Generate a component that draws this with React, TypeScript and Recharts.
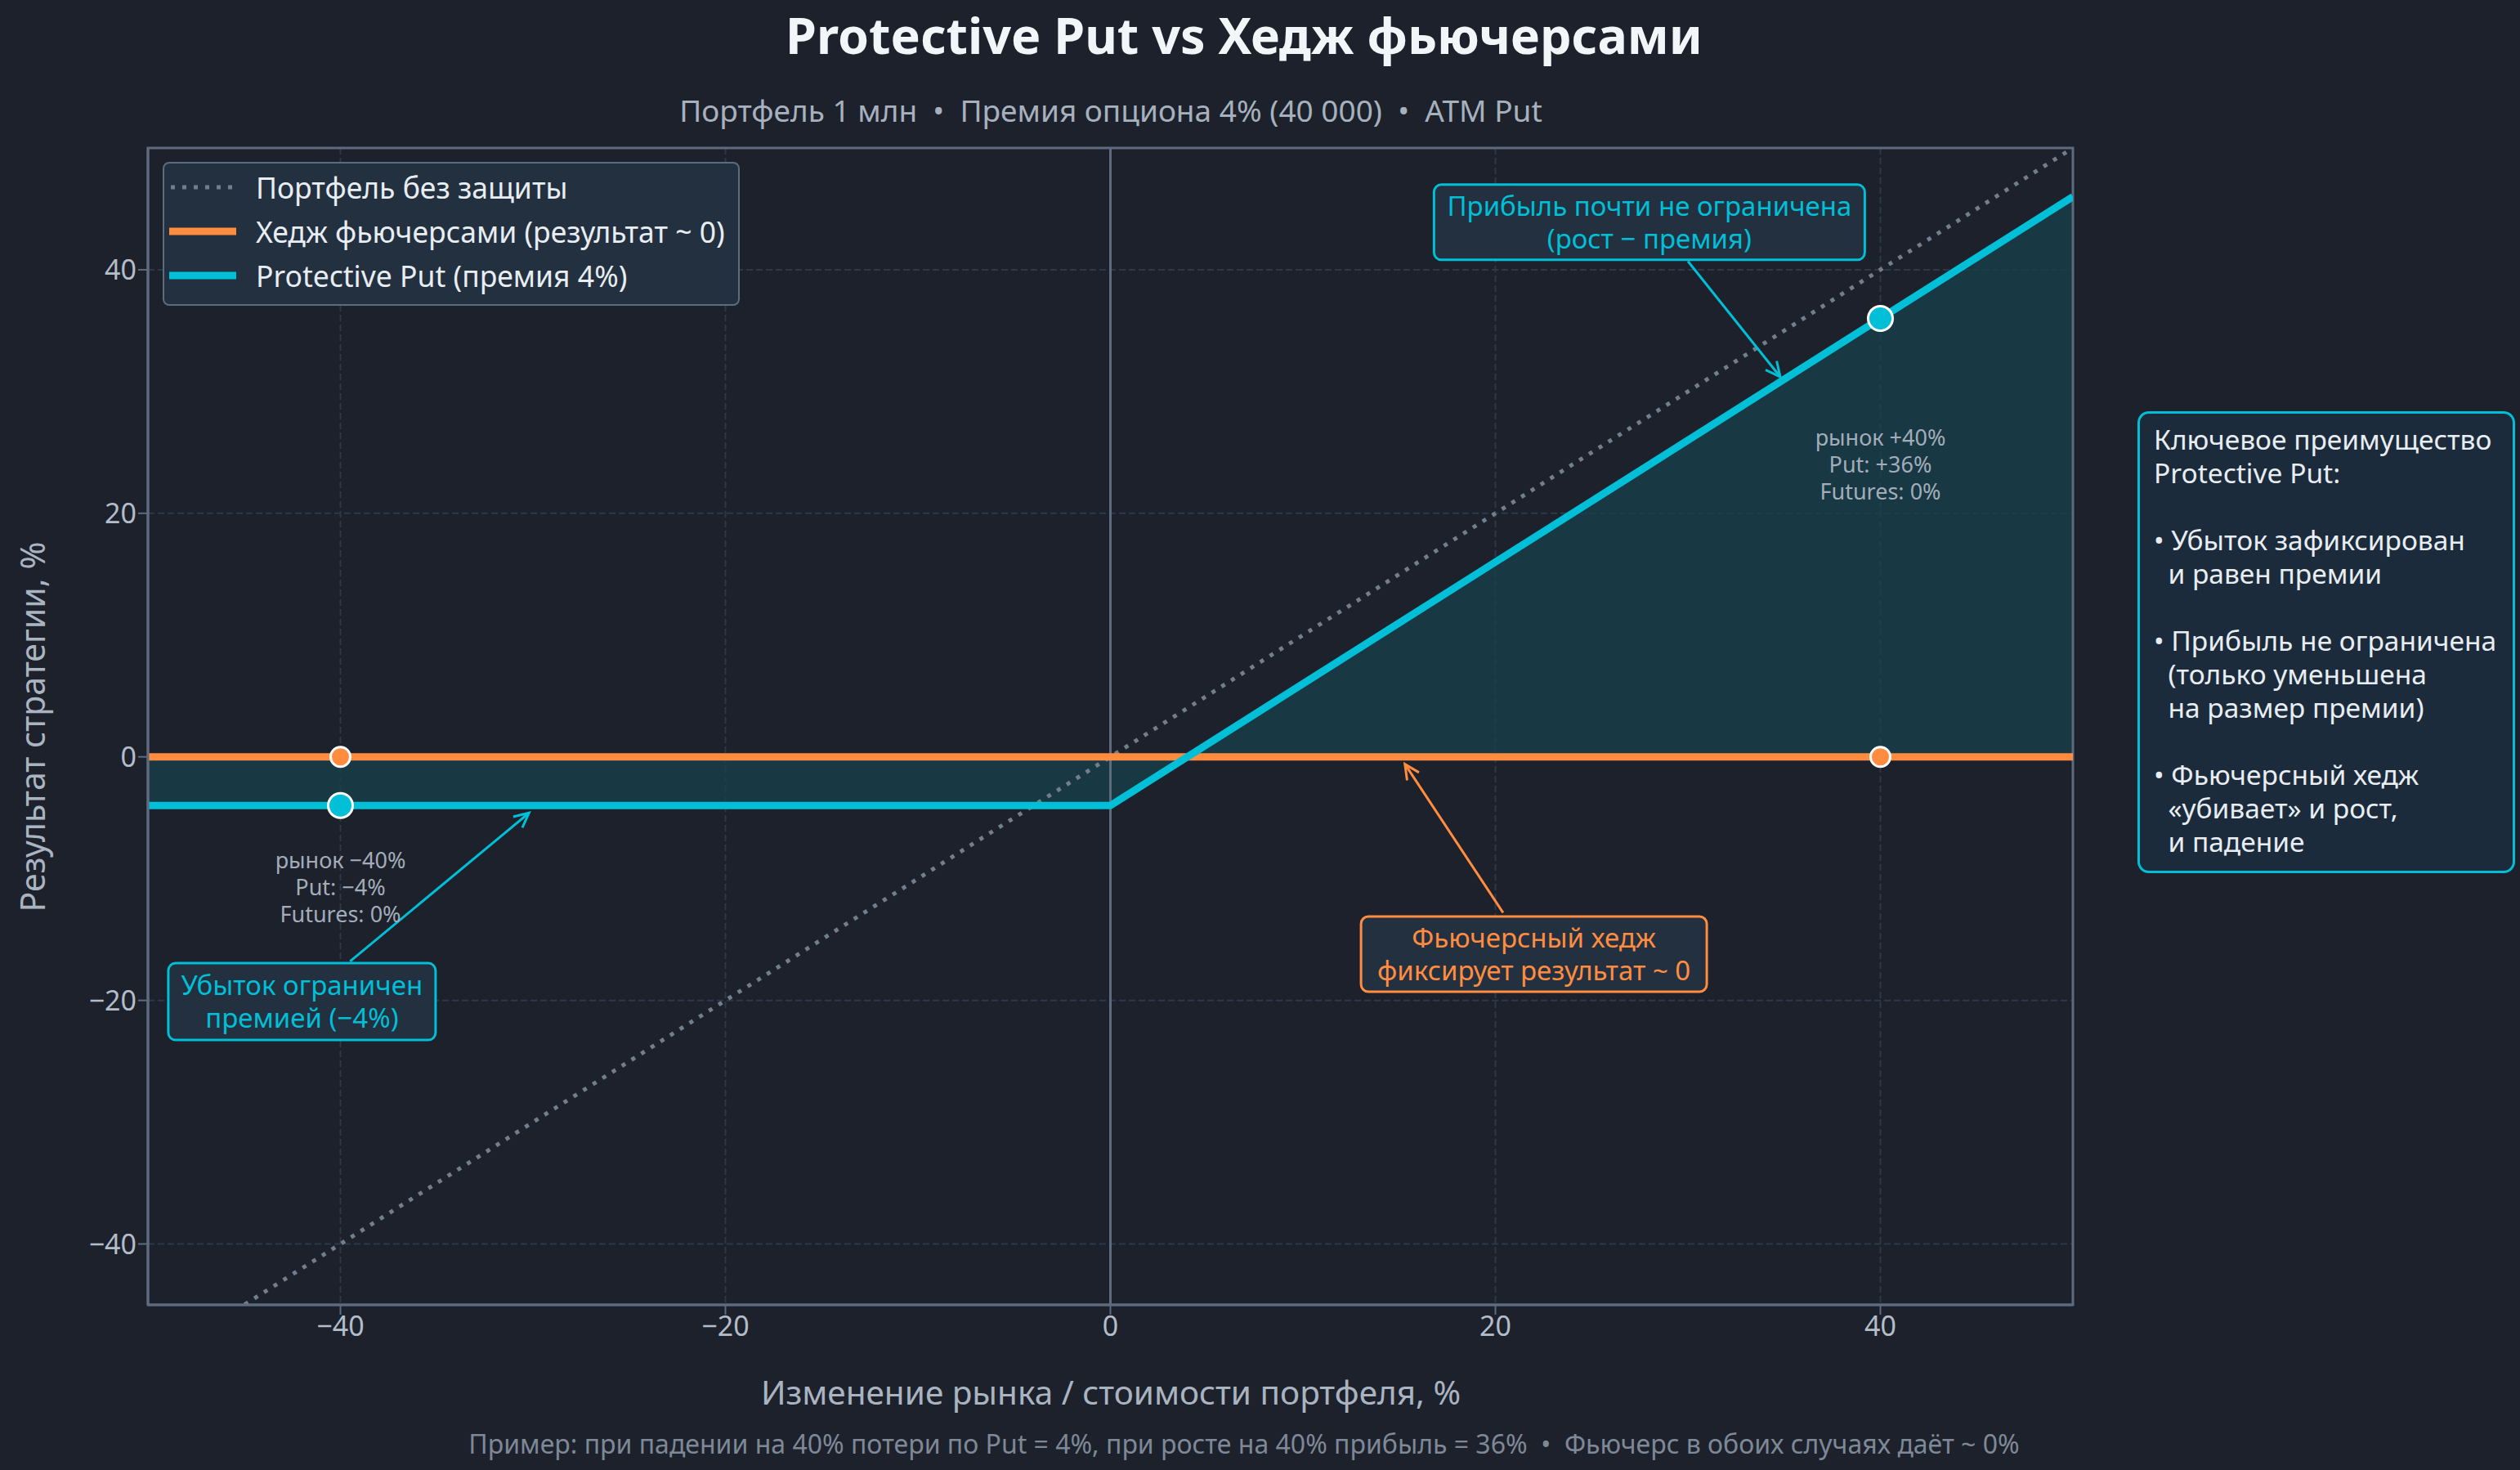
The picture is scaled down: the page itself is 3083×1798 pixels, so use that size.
import React from 'react';
import {
  ComposedChart,
  Line,
  Area,
  Scatter,
  XAxis,
  YAxis,
  CartesianGrid,
  ReferenceLine,
  ReferenceDot,
  ReferenceArea,
  Legend,
} from 'recharts';

// market move, % (x) and strategy result, % (y)
const marketMove = [-50, 0, 50];
const unhedged = [-50, 0, 50];
const futuresHedge = [0, 0, 0];
const protectivePut = [-4, -4, 46];

// highlighted scenarios
const markerMoves = [-40, 40];
const putAtMarkers = [-4, 36];
const futuresAtMarkers = [0, 0];

const xTicks = [-40, -20, 0, 20, 40];
const yTicks = [-40, -20, 0, 20, 40];

const seriesNames = [
  'Портфель без защиты',
  'Хедж фьючерсами (результат ~ 0)',
  'Protective Put (премия 4%)',
];

const W = 3083;
const H = 1798;
const FONT = '"Noto Sans", "Open Sans", sans-serif';
const BG = '#1c212c';
const PANEL = '#233040';
const SPINE = '#5c6b7e';
const GRID = '#2c3949';
const TICK = '#b3bdc9';
const ORANGE = '#ff8c3f';
const CYAN = '#00bfd6';
const DOTTED = '#737e8c';
const FILL = '#17404c';

const rows = marketMove.map((x, i) => ({
  x,
  unhedged: unhedged[i],
  futures: futuresHedge[i],
  put: protectivePut[i],
  gap: [protectivePut[i], futuresHedge[i]],
}));
const putPoints = markerMoves.map((x, i) => ({ x, y: putAtMarkers[i] }));
const futPoints = markerMoves.map((x, i) => ({ x, y: futuresAtMarkers[i] }));

const fmt = (v: number) => (v < 0 ? `\u2212${Math.abs(v)}` : `${v}`);

const NoteBox = ({ cx, cy, lines, color, w, h }: any) => (
  <g>
    <rect x={cx - w / 2} y={cy - h / 2} width={w} height={h} rx={9} fill={PANEL} stroke={color} strokeWidth={3} />
    <text textAnchor="middle" fill={color} fontSize={33} fontFamily={FONT}>
      {lines.map((l: string, i: number) => (
        <tspan key={i} x={cx} y={cy + (i - (lines.length - 1) / 2) * 40 + 12}>
          {l}
        </tspan>
      ))}
    </text>
  </g>
);

const SmallNote = ({ cx, cy, lines }: any) => (
  <text textAnchor="middle" fill="#a3adb9" fontSize={27} fontFamily={FONT}>
    {lines.map((l: string, i: number) => (
      <tspan key={i} x={cx} y={cy + (i - (lines.length - 1) / 2) * 33 + 10}>
        {l}
      </tspan>
    ))}
  </text>
);

const arrowShape = (color: string) => (p: any) => {
  const { x1, y1, x2, y2 } = p;
  const a = Math.atan2(y2 - y1, x2 - x1);
  const len = 20;
  const s = 0.45;
  return (
    <g>
      <line x1={x1} y1={y1} x2={x2} y2={y2} stroke={color} strokeWidth={3} />
      <polyline
        points={`${x2 - len * Math.cos(a - s)},${y2 - len * Math.sin(a - s)} ${x2},${y2} ${x2 - len * Math.cos(a + s)},${y2 - len * Math.sin(a + s)}`}
        fill="none"
        stroke={color}
        strokeWidth={3}
      />
    </g>
  );
};

const LegendBox = () => (
  <div
    style={{
      width: 702,
      height: 172,
      background: PANEL,
      border: `2px solid ${SPINE}`,
      borderRadius: 8,
      fontFamily: FONT,
      fontSize: 35.5,
      color: '#e8edf2',
      position: 'relative',
    }}
  >
    {seriesNames.map((name, i) => (
      <div key={name} style={{ position: 'absolute', left: 0, top: 2 + i * 54, height: 54, display: 'flex', alignItems: 'center' }}>
        <svg width={112} height={20}>
          {i === 0 ? (
            <line x1={8} y1={10} x2={88} y2={10} stroke={DOTTED} strokeWidth={5} strokeDasharray="5 9" />
          ) : (
            <line x1={6} y1={10} x2={88} y2={10} stroke={i === 1 ? ORANGE : CYAN} strokeWidth={9} />
          )}
        </svg>
        <span style={{ whiteSpace: 'nowrap' }}>{name}</span>
      </div>
    ))}
  </div>
);

const dotShape = (color: string, r: number) => (p: any) => (
  <circle cx={p.cx} cy={p.cy} r={r} fill={color} stroke="#ffffff" strokeWidth={3} />
);

export default function App() {
  const abs = (style: React.CSSProperties): React.CSSProperties => ({ position: 'absolute', fontFamily: FONT, whiteSpace: 'pre', ...style });
  return (
    <div style={{ position: 'absolute', left: 0, top: 0, width: W, height: H, background: BG, overflow: 'hidden' }}>
      <ComposedChart width={W} height={H} data={rows} margin={{ top: 181, right: 547, left: 81, bottom: 122 }}>
        <CartesianGrid stroke={GRID} strokeDasharray="8 4" strokeWidth={2} />
        <XAxis
          type="number"
          dataKey="x"
          domain={[-50, 50]}
          ticks={xTicks}
          allowDataOverflow
          tickFormatter={fmt}
          tick={{ fill: TICK, fontSize: 34, fontFamily: FONT }}
          tickSize={12}
          tickLine={{ stroke: SPINE, strokeWidth: 2 }}
          axisLine={{ stroke: SPINE, strokeWidth: 3 }}
          height={80}
        />
        <YAxis
          type="number"
          domain={[-45, 50]}
          ticks={yTicks}
          allowDataOverflow
          tickFormatter={fmt}
          tick={{ fill: TICK, fontSize: 34, fontFamily: FONT }}
          tickSize={12}
          tickLine={{ stroke: SPINE, strokeWidth: 2 }}
          axisLine={{ stroke: SPINE, strokeWidth: 3 }}
          width={100}
        />
        <Legend
          layout="vertical"
          verticalAlign="middle"
          align="center"
          wrapperStyle={{ left: 199, top: 198, width: 706, height: 176 }}
          content={() => <LegendBox />}
        />
        <Area
          dataKey="gap"
          type="linear"
          stroke="none"
          fill={FILL}
          fillOpacity={0.75}
          isAnimationActive={false}
          legendType="none"
        />
        <ReferenceLine x={0} stroke={SPINE} strokeWidth={3} />
        <Line
          dataKey="unhedged"
          type="linear"
          stroke={DOTTED}
          strokeWidth={5}
          strokeDasharray="5 9"
          dot={false}
          isAnimationActive={false}
          name={seriesNames[0]}
        />
        <Line
          dataKey="futures"
          type="linear"
          stroke={ORANGE}
          strokeWidth={9}
          dot={false}
          isAnimationActive={false}
          name={seriesNames[1]}
        />
        <Line
          dataKey="put"
          type="linear"
          stroke={CYAN}
          strokeWidth={9}
          dot={false}
          isAnimationActive={false}
          name={seriesNames[2]}
        />
        <Scatter data={futPoints} dataKey="y" shape={dotShape(ORANGE, 12)} isAnimationActive={false} legendType="none" />
        <Scatter data={putPoints} dataKey="y" shape={dotShape(CYAN, 15)} isAnimationActive={false} legendType="none" />
        <ReferenceArea x1={-50} x2={50} y1={-45} y2={50} fill="none" stroke={SPINE} strokeWidth={3} />

        <ReferenceLine segment={[{ x: 30, y: 40.7 }, { x: 34.8, y: 31.2 }]} shape={arrowShape(CYAN)} />
        <ReferenceLine segment={[{ x: -39.5, y: -16.8 }, { x: -30.2, y: -4.6 }]} shape={arrowShape(CYAN)} />
        <ReferenceLine segment={[{ x: 20.4, y: -12.8 }, { x: 15.3, y: -0.6 }]} shape={arrowShape(ORANGE)} />

        <ReferenceDot
          x={28}
          y={43.9}
          shape={(p: any) => (
            <NoteBox cx={p.cx} cy={p.cy} w={527} h={92} color={CYAN} lines={['Прибыль почти не ограничена', '(рост − премия)']} />
          )}
        />
        <ReferenceDot
          x={-42}
          y={-20.1}
          shape={(p: any) => (
            <NoteBox cx={p.cx} cy={p.cy} w={327} h={94} color={CYAN} lines={['Убыток ограничен', 'премией (−4%)']} />
          )}
        />
        <ReferenceDot
          x={22}
          y={-16.2}
          shape={(p: any) => (
            <NoteBox cx={p.cx} cy={p.cy} w={423} h={92} color={ORANGE} lines={['Фьючерсный хедж', 'фиксирует результат ~ 0']} />
          )}
        />
        <ReferenceDot
          x={-40}
          y={-10.7}
          shape={(p: any) => <SmallNote cx={p.cx} cy={p.cy} lines={['рынок −40%', 'Put: −4%', 'Futures: 0%']} />}
        />
        <ReferenceDot
          x={40}
          y={24}
          shape={(p: any) => <SmallNote cx={p.cx} cy={p.cy} lines={['рынок +40%', 'Put: +36%', 'Futures: 0%']} />}
        />
      </ComposedChart>

      <div style={abs({ left: 522, width: 2000, top: 0, paddingTop: 1, textAlign: 'center', fontSize: 61, fontWeight: 700, color: '#f3f6f9', lineHeight: '84px' })}>
        Protective Put vs Хедж фьючерсами
      </div>
      <div style={abs({ left: 359, width: 2000, top: 112, textAlign: 'center', fontSize: 37, color: '#a7b1bd', lineHeight: '46px' })}>
        {'Портфель 1 млн  •  Премия опциона 4% (40 000)  •  ATM Put'}
      </div>
      <div style={abs({ left: 359, width: 2000, top: 1678, textAlign: 'center', fontSize: 40.5, color: '#aab4c0', lineHeight: '50px' })}>
        Изменение рынка / стоимости портфеля, %
      </div>
      <div style={abs({ left: 522, width: 2000, top: 1747, textAlign: 'center', fontSize: 32, color: '#7e8896', lineHeight: '38px' })}>
        {'Пример: при падении на 40% потери по Put = 4%, при росте на 40% прибыль = 36%  •  Фьючерс в обоих случаях даёт ~ 0%'}
      </div>
      <div
        style={abs({
          left: 39 - 400,
          top: 889 - 25,
          width: 800,
          textAlign: 'center',
          fontSize: 41,
          color: '#aab4c0',
          lineHeight: '50px',
          transform: 'rotate(-90deg)',
        })}
      >
        Результат стратегии, %
      </div>
      <div
        style={abs({
          left: 2615,
          top: 503,
          width: 462,
          height: 565,
          boxSizing: 'border-box',
          border: `3px solid ${CYAN}`,
          borderRadius: 14,
          background: '#1b2b3b',
          padding: '11px 0 0 17px',
          fontSize: 33.5,
          lineHeight: '41px',
          color: '#e8edf2',
        })}
      >
        {'Ключевое преимущество\nProtective Put:\n\n• Убыток зафиксирован\n  и равен премии\n\n• Прибыль не ограничена\n  (только уменьшена\n  на размер премии)\n\n• Фьючерсный хедж\n  «убивает» и рост,\n  и падение'}
      </div>
    </div>
  );
}
